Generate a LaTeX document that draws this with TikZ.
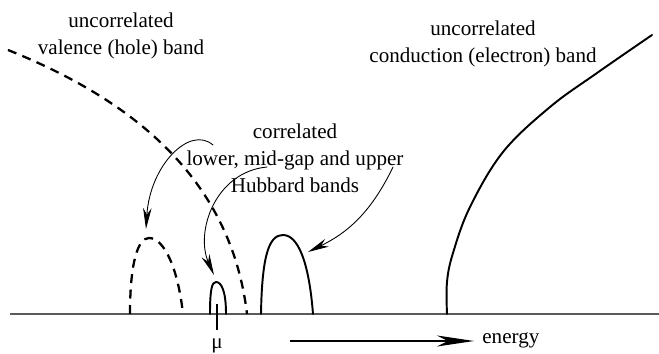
\documentclass[tikz,border=0pt]{standalone}
\usepackage{fontspec}
\setmainfont{Liberation Serif}
\usetikzlibrary{arrows.meta}

\definecolor{axisgray}{RGB}{90,90,90}

\begin{document}
\begin{tikzpicture}[x=0.02cm,y=-0.02cm,line cap=round,line join=round,
        band/.style={line width=1.1pt},
        dashband/.style={line width=1.3pt,line cap=butt,dash pattern=on 0.18cm off 0.13cm},
        callout/.style={line width=0.5pt,-{Stealth[length=0.42cm,width=0.17cm,inset=0.13cm]}},
        label/.style={align=center,font=\fontsize{12}{15.4}\selectfont,inner sep=0pt}]
        \useasboundingbox (0,0) rectangle (659,354);

        % Eje de energía
        \coordinate (left) at (10,314);
        \coordinate (right) at (659,314);
        \draw[axisgray,line width=0.7pt,line cap=butt] (left) -- (right);

        % Bandas no correlacionadas
        \draw[dashband] (8,50) .. controls (120,95) and (230,170) .. (247,314);
        \draw[band] plot[smooth,tension=0.6] coordinates
            {(447,314) (447,282) (453,253) (470,207) (503,152) (550,107) (597,73) (652,35)};

        % Bandas de Hubbard
        \draw[dashband] (130,314) .. controls (130,262) and (138,238) .. (149,238)
            .. controls (164,238) and (178,268) .. (183,314);
        \draw[band] (210,314) .. controls (210,289) and (212,282) .. (216,282)
            .. controls (221,282) and (226,290) .. (226,314);
        \draw[band] (261,314) .. controls (262,252) and (270,235) .. (283,235)
            .. controls (298,235) and (309,262) .. (313,314);

        % Potencial químico
        \coordinate (mutop) at (217,304);
        \coordinate (mubot) at (217,330);
        \draw[line width=1pt,line cap=butt] (mutop) -- (mubot);
        \node[inner sep=0pt] (mu) at (217,346) {\fontsize{12}{14}\selectfont μ};

        % Textos
        \node[label] (valence) at (121,36) {uncorrelated\\valence (hole) band};
        \node[label] (corr) at (295,158) {correlated\\lower, mid-gap and upper\\Hubbard bands};
        \node[label] (cond) at (483,44) {uncorrelated\\conduction (electron) band};

        % Flechas
        \coordinate (a1) at (213,145);
        \coordinate (lowtip) at (146,229);
        \draw[callout] (a1) .. controls (190,125) and (150,165) .. (lowtip);
        \coordinate (a2) at (267,167);
        \coordinate (midtip) at (214,275);
        \draw[callout] (a2) .. controls (215,172) and (195,232) .. (midtip);
        \coordinate (a3) at (393,167);
        \coordinate (uptip) at (308,252);
        \draw[callout] (a3) .. controls (370,215) and (345,234) .. (uptip);

        \node[anchor=west,inner sep=0pt,font=\fontsize{12}{14}\selectfont] (energy) at (482,340) {energy};
        \coordinate (etail) at (290,341);
        \draw[line width=1.1pt,line cap=butt,shorten >=0.16cm,
            -{Stealth[length=0.74cm,width=0.22cm,inset=0.22cm]}]
            (etail) -- (energy.west |- etail);
    \end{tikzpicture}
\end{document}
